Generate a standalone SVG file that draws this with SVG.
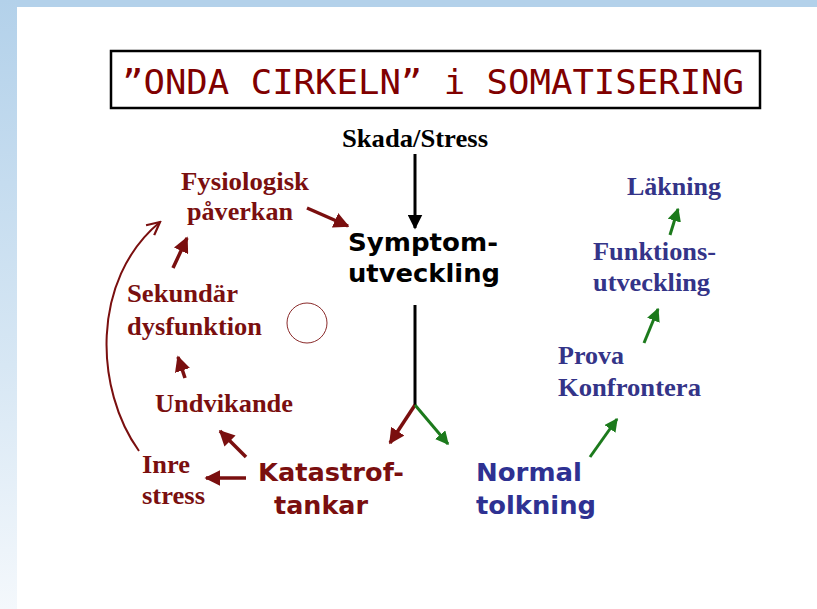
<svg xmlns="http://www.w3.org/2000/svg" width="817" height="609" viewBox="0 0 817 609">
<defs>
<linearGradient id="side" x1="0" y1="0" x2="0" y2="1">
<stop offset="0" stop-color="#b3d1ea"/><stop offset="0.6" stop-color="#d7e7f4"/><stop offset="1" stop-color="#f4f8fc"/>
</linearGradient>
<marker id="ar" viewBox="0 0 10 10" refX="9" refY="5" markerWidth="4.5" markerHeight="4.5" orient="auto" markerUnits="strokeWidth"><path d="M0,0 L10,5 L0,10 z" fill="#7a0f0f"/></marker>
<marker id="ag" viewBox="0 0 10 10" refX="9" refY="5" markerWidth="4.5" markerHeight="4.5" orient="auto" markerUnits="strokeWidth"><path d="M0,0 L10,5 L0,10 z" fill="#1c7a1c"/></marker>
<marker id="ak" viewBox="0 0 10 10" refX="9" refY="5" markerWidth="5" markerHeight="5" orient="auto" markerUnits="strokeWidth"><path d="M0,0 L10,5 L0,10 z" fill="#000"/></marker>
<marker id="arthin" viewBox="0 0 10 10" refX="9" refY="5" markerWidth="8" markerHeight="8" orient="auto" markerUnits="strokeWidth"><path d="M1,1 L9,5 L1,9" fill="none" stroke="#7a0f0f" stroke-width="1.4"/></marker>
</defs>
<style>
.serif{font-family:"Liberation Serif",serif;font-weight:bold;font-size:26px}
.sans{font-family:"DejaVu Sans","Liberation Sans",sans-serif;font-weight:bold;font-size:25px}
.red{fill:#7a0f0f}
.blue{fill:#343488}
.navy{fill:#2e3192}
.k{fill:#000}
.lr{stroke:#7a0f0f;stroke-width:3.5;fill:none}
.lg{stroke:#1c7a1c;stroke-width:3;fill:none}
</style>
<rect width="817" height="609" fill="#fff"/>
<rect x="0" y="0" width="817" height="7" fill="#b3d1ea"/>
<rect x="0" y="0" width="17" height="609" fill="url(#side)"/>

<g id="title">
<rect x="111" y="51" width="649" height="57" fill="#fff" stroke="#000" stroke-width="2.5"/>
<text x="122" y="94" font-family="DejaVu Sans Mono,Liberation Mono,monospace" font-size="34" fill="#800000" textLength="622" lengthAdjust="spacingAndGlyphs">”ONDA CIRKELN” i SOMATISERING</text>
</g>

<g id="skada"><text class="serif k" x="342" y="147" textLength="146" lengthAdjust="spacingAndGlyphs">Skada/Stress</text></g>
<g id="symptom"><text class="sans k" x="348" y="251" textLength="150" lengthAdjust="spacingAndGlyphs">Symptom-</text><text class="sans k" x="348" y="282" textLength="152" lengthAdjust="spacingAndGlyphs">utveckling</text></g>
<g id="fysiologisk"><text class="serif red" x="181" y="190" textLength="128" lengthAdjust="spacingAndGlyphs">Fysiologisk</text><text class="serif red" x="187" y="220" textLength="106" lengthAdjust="spacingAndGlyphs">påverkan</text></g>
<g id="sekundar"><text class="serif red" x="127" y="302" textLength="111" lengthAdjust="spacingAndGlyphs">Sekundär</text><text class="serif red" x="127" y="335" textLength="135" lengthAdjust="spacingAndGlyphs">dysfunktion</text></g>
<g id="undvikande"><text class="serif red" x="155" y="412" textLength="138" lengthAdjust="spacingAndGlyphs">Undvikande</text></g>
<g id="inre"><text class="serif red" x="142" y="473" textLength="48" lengthAdjust="spacingAndGlyphs">Inre</text><text class="serif red" x="142" y="504" textLength="63" lengthAdjust="spacingAndGlyphs">stress</text></g>
<g id="katastrof"><text class="sans red" x="258" y="481" textLength="146" lengthAdjust="spacingAndGlyphs">Katastrof-</text><text class="sans red" x="274" y="514" textLength="94" lengthAdjust="spacingAndGlyphs">tankar</text></g>
<g id="normal"><text class="sans navy" x="476" y="481" textLength="106" lengthAdjust="spacingAndGlyphs">Normal</text><text class="sans navy" x="476" y="514" textLength="120" lengthAdjust="spacingAndGlyphs">tolkning</text></g>
<g id="prova"><text class="serif blue" x="558" y="364" textLength="66" lengthAdjust="spacingAndGlyphs">Prova</text><text class="serif blue" x="558" y="396" textLength="143" lengthAdjust="spacingAndGlyphs">Konfrontera</text></g>
<g id="funktions"><text class="serif blue" x="593" y="260" textLength="123" lengthAdjust="spacingAndGlyphs">Funktions-</text><text class="serif blue" x="593" y="291" textLength="117" lengthAdjust="spacingAndGlyphs">utveckling</text></g>
<g id="lakning"><text class="serif blue" x="627" y="195" textLength="94" lengthAdjust="spacingAndGlyphs">Läkning</text></g>
<g id="circle"><circle cx="307" cy="323" r="20" fill="none" stroke="#8a2a2a" stroke-width="1"/></g>

<g id="connectors">
<line x1="415" y1="154" x2="415" y2="228" stroke="#000" stroke-width="3" marker-end="url(#ak)"/>
<polyline points="415,305 415,405" stroke="#000" stroke-width="3" fill="none"/>
<line x1="415" y1="405" x2="390" y2="443" class="lr" marker-end="url(#ar)"/>
<line x1="415" y1="405" x2="448" y2="444" class="lg" marker-end="url(#ag)"/>
<line x1="307" y1="208" x2="348" y2="226" class="lr" marker-end="url(#ar)"/>
<line x1="246" y1="478" x2="206" y2="478" class="lr" marker-end="url(#ar)"/>
<line x1="246" y1="457" x2="220" y2="431" class="lr" marker-end="url(#ar)"/>
<line x1="185" y1="378" x2="178" y2="357" class="lr" marker-end="url(#ar)"/>
<line x1="173" y1="268" x2="187" y2="238" class="lr" marker-end="url(#ar)"/>
<path d="M139,451 C95,390 90,280 160,222" fill="none" stroke="#7a0f0f" stroke-width="2" marker-end="url(#arthin)"/>
<line x1="590" y1="457" x2="617" y2="419" class="lg" marker-end="url(#ag)"/>
<line x1="644" y1="343" x2="658" y2="309" class="lg" marker-end="url(#ag)"/>
<line x1="670" y1="235" x2="678" y2="209" class="lg" marker-end="url(#ag)"/>
</g>
</svg>
